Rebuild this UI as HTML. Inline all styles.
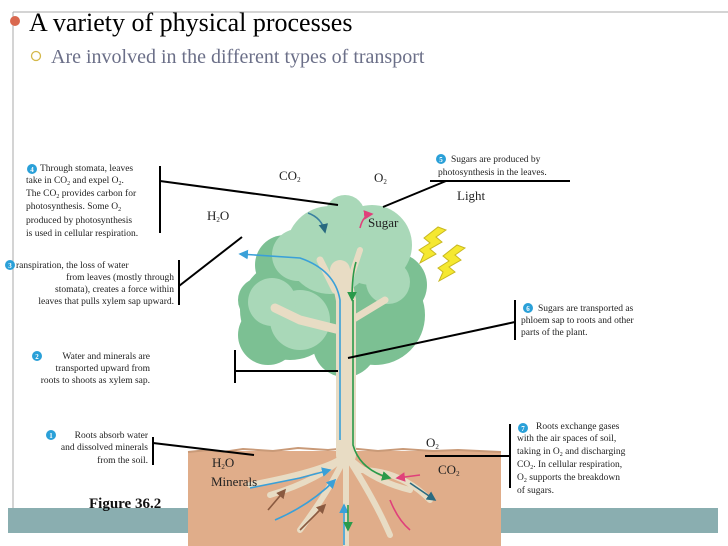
<!DOCTYPE html>
<html><head><meta charset="utf-8"><style>
html,body{margin:0;padding:0;background:#fff}
svg{display:block}
text{font-family:"Liberation Serif",serif}
</style></head><body>
<svg width="728" height="546" viewBox="0 0 728 546" xmlns="http://www.w3.org/2000/svg">
<defs>
<marker id="ab" markerWidth="6" markerHeight="6" refX="5" refY="3" orient="auto"><path d="M0,0 L6,3 L0,6z" fill="#3aa0d8"/></marker>
<marker id="ag" markerWidth="6" markerHeight="6" refX="5" refY="3" orient="auto"><path d="M0,0 L6,3 L0,6z" fill="#2a9a4a"/></marker>
<marker id="ap" markerWidth="6" markerHeight="6" refX="5" refY="3" orient="auto"><path d="M0,0 L6,3 L0,6z" fill="#e0407a"/></marker>
<marker id="ad" markerWidth="6" markerHeight="6" refX="5" refY="3" orient="auto"><path d="M0,0 L6,3 L0,6z" fill="#2a6a80"/></marker>
<marker id="abr" markerWidth="6" markerHeight="6" refX="5" refY="3" orient="auto"><path d="M0,0 L6,3 L0,6z" fill="#8a5a40"/></marker>
</defs>
<line x1="13" y1="12" x2="728" y2="12" stroke="#aaa" stroke-width="1"/>
<line x1="13" y1="12" x2="13" y2="510" stroke="#aaa" stroke-width="1"/>
<rect x="8" y="508" width="710" height="25" fill="#8aaeb0"/>
<circle cx="15" cy="21" r="5" fill="#d9684f"/>
<text x="29" y="31" font-size="26" fill="#000">A variety of physical processes</text>
<circle cx="36" cy="56" r="4.5" fill="none" stroke="#d4b84a" stroke-width="1.3"/>
<text x="51" y="63" font-size="20" fill="#6b6f88">Are involved in the different types of transport</text>

<rect x="188" y="451" width="313" height="95" fill="#e0ad8a"/>
<path d="M188,452 l20,-2 l15,2 l20,-3 l30,2 l25,-3 l30,2 l20,-2 l30,3 l25,-2 l30,2 l25,-1 l43,2" stroke="#c99a78" fill="none" stroke-width="2"/>

<g fill="#7cc093">
<circle cx="290" cy="310" r="50"/><circle cx="268" cy="335" r="30"/><circle cx="375" cy="315" r="50"/>
<circle cx="395" cy="285" r="32"/><circle cx="345" cy="345" r="32"/><circle cx="285" cy="265" r="30"/>
<circle cx="260" cy="300" r="22"/>
</g>
<g fill="#a9d8b8">
<circle cx="330" cy="250" r="44"/><circle cx="372" cy="245" r="40"/><circle cx="298" cy="255" r="26"/><circle cx="345" cy="215" r="20"/>
<circle cx="388" cy="282" r="22"/><circle cx="300" cy="320" r="30"/><circle cx="272" cy="302" r="24"/>
</g>
<g fill="none" stroke="#e8dcc4" stroke-linecap="round">
<path d="M346,455 L346,300 L340,270" stroke-width="20"/>
<path d="M340,330 L300,320 L275,308" stroke-width="9"/>
<path d="M352,320 L385,300" stroke-width="7"/>
<path d="M335,290 L320,260" stroke-width="7"/>
<path d="M350,280 L360,250" stroke-width="6"/>
<g stroke-width="6">
<path d="M346,455 Q320,480 270,495"/><path d="M346,455 Q330,490 300,530"/><path d="M346,455 L346,546"/>
<path d="M346,455 Q370,480 410,490"/><path d="M346,455 Q375,500 390,535"/><path d="M346,455 Q330,470 250,485"/>
<path d="M360,470 Q400,470 430,500"/>
</g>
</g>
<g fill="none" stroke-width="1.6">
<path d="M340,440 L340,300 Q335,270 300,258 L240,254" stroke="#3aa0d8" marker-end="url(#ab)"/>
<path d="M353,300 L353,445 Q360,470 390,478" stroke="#2a9a4a" marker-end="url(#ag)"/>
<path d="M356,262 Q352,275 352,300" stroke="#2a9a4a" marker-end="url(#ag)"/>
<path d="M308,213 Q322,218 325,232" stroke="#3a80a0" marker-end="url(#ad)"/>
<path d="M360,228 Q363,215 372,214" stroke="#e0407a" marker-end="url(#ap)"/>
<path d="M250,488 L300,478 L330,470" stroke="#3aa0d8" marker-end="url(#ab)"/>
<path d="M275,520 Q310,505 335,480" stroke="#3aa0d8" marker-end="url(#ab)"/>
<path d="M344,545 L344,505" stroke="#3aa0d8" marker-end="url(#ab)"/>
<path d="M420,475 L397,478" stroke="#e0407a" marker-end="url(#ap)"/>
<path d="M390,500 Q398,520 410,530" stroke="#e0407a"/>
<path d="M410,483 L435,500" stroke="#2a6a80" marker-end="url(#ad)"/>
<path d="M268,510 L285,490" stroke="#8a5a40" marker-end="url(#abr)"/>
<path d="M300,530 L325,505" stroke="#8a5a40" marker-end="url(#abr)"/>
<path d="M348,505 L348,530" stroke="#2a9a4a" marker-end="url(#ag)"/>
</g>
<g fill="#f5e830" stroke="#c8b820" stroke-width="1">
<path d="M446,230 l-10,7 l6,5 l-12,7 l6,5 l-16,9 l4,-9 l-5,-4 l11,-7 l-6,-5 l14,-11z"/>
<path d="M465,248 l-10,7 l6,5 l-12,7 l6,5 l-16,9 l4,-9 l-5,-4 l11,-7 l-6,-5 l14,-11z"/>
</g>

<g font-size="13" fill="#222">
<text x="279" y="180">CO<tspan font-size="7" dy="2">2</tspan></text>
<text x="374" y="182">O<tspan font-size="7" dy="2">2</tspan></text>
<text x="457" y="200">Light</text>
<text x="207" y="220">H<tspan font-size="7" dy="2">2</tspan><tspan dy="-2">O</tspan></text>
<text x="368" y="227">Sugar</text>
<text x="426" y="447">O<tspan font-size="7" dy="2">2</tspan></text>
<text x="438" y="474">CO<tspan font-size="7" dy="2">2</tspan></text>
<text x="212" y="467">H<tspan font-size="7" dy="2">2</tspan><tspan dy="-2">O</tspan></text>
<text x="211" y="486">Minerals</text>
</g>
<text x="89" y="508" font-size="15" font-weight="bold" fill="#111">Figure 36.2</text>

<g stroke="#000" stroke-width="2" fill="none">
<line x1="160" y1="166" x2="160" y2="233"/><line x1="160" y1="181" x2="338" y2="205"/>
<line x1="430" y1="181" x2="570" y2="181"/><line x1="446" y1="181" x2="383" y2="207"/>
<line x1="179" y1="260" x2="179" y2="305"/><line x1="179" y1="286" x2="242" y2="237"/>
<line x1="515" y1="300" x2="515" y2="340"/><line x1="515" y1="322" x2="348" y2="358"/>
<line x1="235" y1="350" x2="235" y2="383"/><line x1="235" y1="371" x2="338" y2="371"/>
<line x1="153" y1="437" x2="153" y2="465"/><line x1="153" y1="443" x2="254" y2="455"/>
<line x1="510" y1="424" x2="510" y2="488"/><line x1="510" y1="456" x2="425" y2="456"/>
</g>

<g font-size="9.5" fill="#222">
<circle cx="32" cy="169" r="5" fill="#2aa0d8"/>
<text x="40" y="171">Through stomata, leaves</text>
<text x="26" y="183">take in CO<tspan font-size="6" dy="2">2</tspan><tspan dy="-2"> and expel O</tspan><tspan font-size="6" dy="2">2</tspan><tspan dy="-2">.</tspan></text>
<text x="26" y="196">The CO<tspan font-size="6" dy="2">2</tspan><tspan dy="-2"> provides carbon for</tspan></text>
<text x="26" y="209">photosynthesis. Some O<tspan font-size="6" dy="2">2</tspan></text>
<text x="26" y="223">produced by photosynthesis</text>
<text x="26" y="236">is used in cellular respiration.</text>

<circle cx="10" cy="265" r="5" fill="#2aa0d8"/>
<text x="16" y="268">ranspiration, the loss of water</text>
<text x="174" y="280" text-anchor="end">from leaves (mostly through</text>
<text x="174" y="292" text-anchor="end">stomata), creates a force within</text>
<text x="174" y="304" text-anchor="end">leaves that pulls xylem sap upward.</text>

<circle cx="37" cy="356" r="5" fill="#2aa0d8"/>
<text x="150" y="359" text-anchor="end">Water and minerals are</text>
<text x="150" y="371" text-anchor="end">transported upward from</text>
<text x="150" y="383" text-anchor="end">roots to shoots as xylem sap.</text>

<circle cx="51" cy="435" r="5" fill="#2aa0d8"/>
<text x="148" y="438" text-anchor="end">Roots absorb water</text>
<text x="148" y="450" text-anchor="end">and dissolved minerals</text>
<text x="148" y="463" text-anchor="end">from the soil.</text>

<circle cx="441" cy="159" r="5" fill="#2aa0d8"/>
<text x="451" y="162">Sugars are produced by</text>
<text x="438" y="175">photosynthesis in the leaves.</text>

<circle cx="528" cy="308" r="5" fill="#2aa0d8"/>
<text x="538" y="311">Sugars are transported as</text>
<text x="521" y="323">phloem sap to roots and other</text>
<text x="521" y="335">parts of the plant.</text>

<circle cx="523" cy="428" r="5" fill="#2aa0d8"/>
<text x="536" y="429">Roots exchange gases</text>
<text x="517" y="441">with the air spaces of soil,</text>
<text x="517" y="454">taking in O<tspan font-size="6" dy="2">2</tspan><tspan dy="-2"> and discharging</tspan></text>
<text x="517" y="467">CO<tspan font-size="6" dy="2">2</tspan><tspan dy="-2">. In cellular respiration,</tspan></text>
<text x="517" y="480">O<tspan font-size="6" dy="2">2</tspan><tspan dy="-2"> supports the breakdown</tspan></text>
<text x="517" y="493">of sugars.</text>
</g>
<g font-size="7" fill="#fff" text-anchor="middle" font-weight="bold">
<text x="32" y="172">4</text><text x="10" y="268">3</text><text x="37" y="359">2</text><text x="51" y="438">1</text>
<text x="441" y="162">5</text><text x="528" y="311">6</text><text x="523" y="431">7</text>
</g>
</svg>
</body></html>
